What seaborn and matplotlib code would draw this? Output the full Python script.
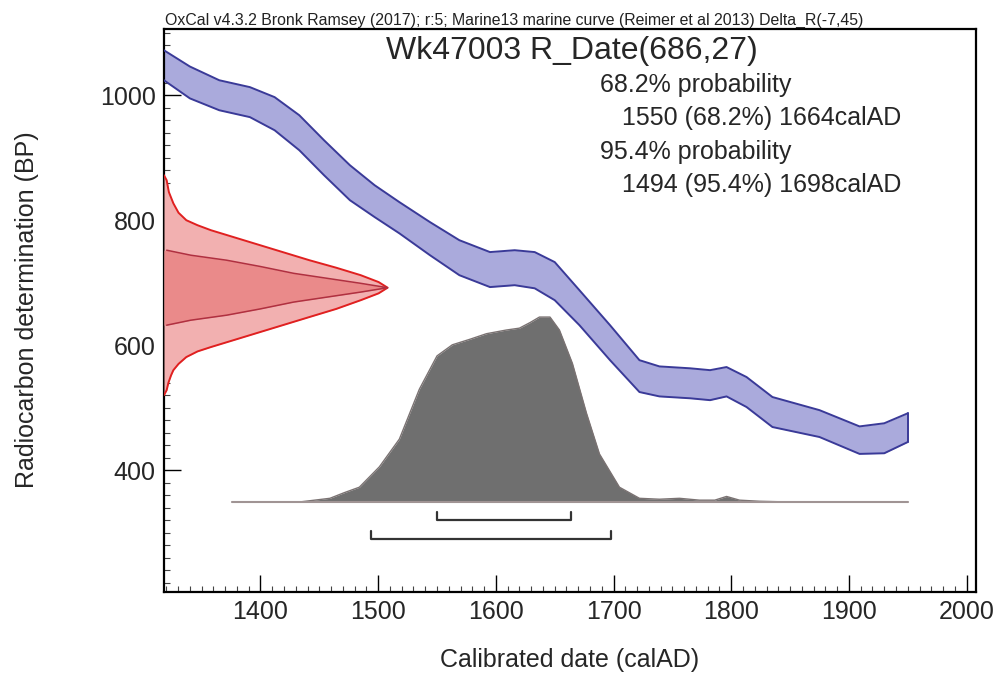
import numpy as np
import matplotlib
matplotlib.use("Agg")
import matplotlib.pyplot as plt
from matplotlib.ticker import MultipleLocator
import seaborn as sns

# --- calibration curve band (Marine13 + Delta_R) ---
curve_years = [1318, 1340, 1365, 1391, 1412, 1433, 1454, 1476, 1497, 1518, 1544, 1569, 1595, 1616,
               1633, 1650, 1671, 1697, 1722, 1739, 1765, 1782, 1796, 1813, 1835, 1875, 1909, 1930, 1950]
curve_upper = [1072, 1046, 1024, 1013, 997, 968, 928, 888, 856, 829, 797, 768, 749, 752,
               749, 733, 688, 632, 576, 566, 563, 560, 565, 549, 517, 496, 470, 475, 491]
curve_lower = [1024, 995, 976, 965, 944, 912, 872, 832, 805, 779, 744, 712, 693, 696,
               691, 672, 632, 576, 525, 518, 515, 512, 518, 501, 469, 453, 426, 427, 445]

# --- radiocarbon date on the y axis (relative height) ---
date_bp = [520, 528, 540, 552, 560, 570, 581, 590, 597, 609, 621, 633, 645, 658, 672, 683, 692,
           701, 712, 724, 736, 748, 760, 772, 784, 792, 800, 812, 827, 845, 864, 872]
date_outer = [0, 0.012, 0.02, 0.032, 0.042, 0.065, 0.10, 0.15, 0.21, 0.32, 0.43, 0.54, 0.65, 0.77, 0.88, 0.96, 1.0,
              0.96, 0.88, 0.77, 0.65, 0.54, 0.43, 0.32, 0.21, 0.15, 0.10, 0.065, 0.042, 0.022, 0.012, 0]
inner_bp = [632, 640, 648, 658, 669, 677, 685, 692, 699, 707, 715, 726, 736, 744, 752]
inner_w = [0.012, 0.12, 0.28, 0.43, 0.58, 0.73, 0.88, 1.0, 0.88, 0.73, 0.58, 0.43, 0.28, 0.12, 0.012]

# --- calibrated probability distribution ---
cal_years = [1376, 1433, 1459, 1471, 1484, 1501, 1518, 1535, 1550, 1563, 1578, 1592, 1609, 1620, 1629, 1637,
             1646, 1654, 1665, 1677, 1688, 1705, 1722, 1739, 1756, 1773, 1786, 1796, 1807, 1824, 1850, 1950]
cal_prob = [0, 0, 0.02, 0.05, 0.08, 0.19, 0.34, 0.61, 0.79, 0.85, 0.88, 0.91, 0.93, 0.94, 0.97, 1.0,
            1.0, 0.93, 0.75, 0.48, 0.26, 0.08, 0.02, 0.015, 0.02, 0.01, 0.01, 0.03, 0.01, 0.004, 0, 0]

range_68 = (1550, 1664)
range_95 = (1494, 1698)

sns.set_theme(style="white")
plt.rcParams['font.family'] = ['Liberation Sans', 'DejaVu Sans']

fig = plt.figure(figsize=(9.98, 6.75), dpi=100)
ax = fig.add_axes([0.1643, 0.123, 0.8137, 0.834])

# calibration band
ax.fill_between(curve_years, curve_lower, curve_upper, color="#aaaadc", linewidth=0, zorder=2)
sns.lineplot(x=curve_years, y=curve_upper, ax=ax, color="#3a3a98", linewidth=1.4, zorder=3)
sns.lineplot(x=curve_years, y=curve_lower, ax=ax, color="#3a3a98", linewidth=1.4, zorder=3)
ax.plot([curve_years[-1]] * 2, [curve_lower[-1], curve_upper[-1]], color="#3a3a98", linewidth=1.4, zorder=3)

# radiocarbon date, drawn sideways from the y axis
x0 = 1318
peak_w = 190
outer_x = x0 + np.array(date_outer) * peak_w
inner_x = x0 + np.array(inner_w) * peak_w
ax.fill_betweenx(date_bp, x0, outer_x, color="#f2b0b0", linewidth=0, zorder=4)
ax.fill_betweenx(inner_bp, x0, inner_x, color="#ea8a8a", linewidth=0, zorder=4)
ax.plot(outer_x, date_bp, color="#e02020", linewidth=1.4, zorder=5)
ax.plot(inner_x, inner_bp, color="#b03040", linewidth=1.1, zorder=5)

# calibrated distribution
base = 349
height = 296
top = base + np.array(cal_prob) * height
ax.fill_between(cal_years, base, top, color="#6f6f6f", linewidth=0, zorder=3)
ax.plot(cal_years, top, color="#7a7272", linewidth=1.0, zorder=3)
ax.plot([cal_years[0], cal_years[-1]], [base, base], color="#a09494", linewidth=1.5, zorder=3)

# range brackets
for (lo, hi), yb in [(range_68, 320), (range_95, 290)]:
    ax.plot([lo, lo, hi, hi], [yb + 13, yb, yb, yb + 13], color="#333333", linewidth=1.6, zorder=3)

ax.set_xlim(1318, 2008)
ax.set_ylim(205, 1106)
ax.xaxis.set_major_locator(MultipleLocator(100))
ax.xaxis.set_minor_locator(MultipleLocator(10))
ax.yaxis.set_major_locator(MultipleLocator(200))
ax.yaxis.set_minor_locator(MultipleLocator(20))
ax.set_xticks([1400, 1500, 1600, 1700, 1800, 1900, 2000])
ax.set_yticks([400, 600, 800, 1000])
ax.tick_params(which="major", direction="in", length=12, width=1.0, color="black",
               labelsize=18, pad=6, bottom=True, left=True, top=False, right=False)
ax.tick_params(which="minor", direction="in", length=4, width=0.8, color="#444444",
               bottom=True, left=True, top=False, right=False)
for s in ax.spines.values():
    s.set_color("black")
    s.set_linewidth(1.6)

fig.text(570 / 998, 1 - 660 / 675, "Calibrated date (calAD)", ha="center", va="center", fontsize=18)
fig.text(27 / 998, 1 - 310 / 675, "Radiocarbon determination (BP)", ha="center", va="center",
         rotation=90, fontsize=18)

fig.text(165 / 998, 1 - 25 / 675,
         "OxCal v4.3.2 Bronk Ramsey (2017); r:5; Marine13 marine curve (Reimer et al 2013) Delta_R(-7,45)",
         ha="left", va="baseline", fontsize=11.4, color="#222222")
fig.text(572 / 998, 1 - 51 / 675, "Wk47003 R_Date(686,27)", ha="center", va="center", fontsize=23)
fig.text(600 / 998, 1 - 85 / 675, "68.2% probability", ha="left", va="center", fontsize=18)
fig.text(622 / 998, 1 - 118 / 675, "1550 (68.2%) 1664calAD", ha="left", va="center", fontsize=18)
fig.text(600 / 998, 1 - 152 / 675, "95.4% probability", ha="left", va="center", fontsize=18)
fig.text(622 / 998, 1 - 185 / 675, "1494 (95.4%) 1698calAD", ha="left", va="center", fontsize=18)

fig.savefig("out.png", dpi=100)
